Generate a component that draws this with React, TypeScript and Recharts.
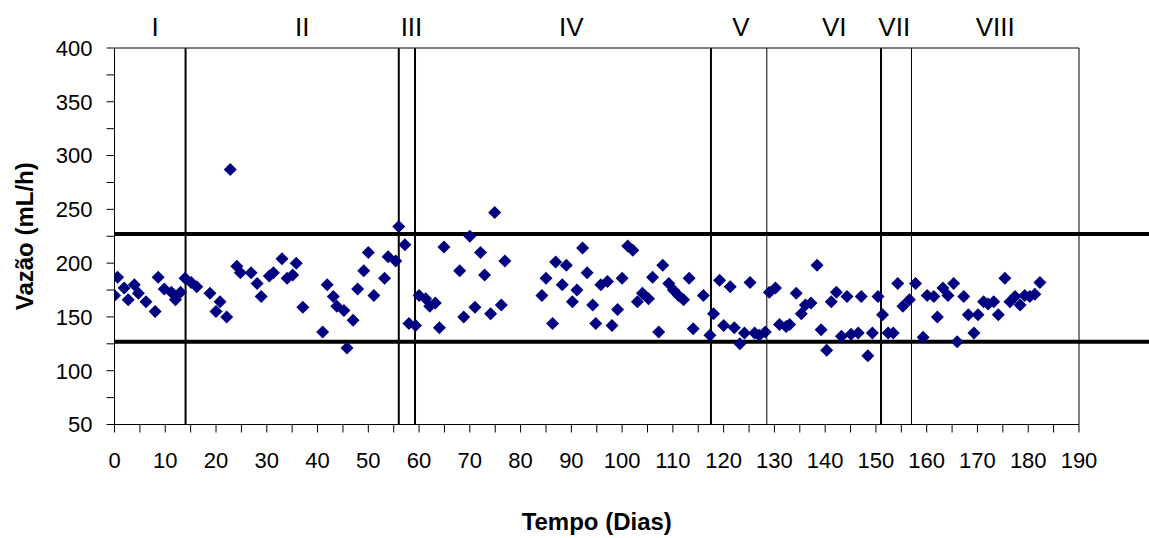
import {
  ScatterChart,
  Scatter,
  XAxis,
  YAxis,
  ReferenceLine,
  ReferenceArea,
  ReferenceDot,
} from 'recharts'

const dias = [
  0, 0.6, 1.9, 2.7, 3.9, 4.7, 6.2, 8.0, 8.6, 9.8, 11.2, 12.0, 13.0, 13.9, 15.1, 16.2,
  18.8, 20.0, 20.8, 22.1, 22.8, 24.1, 24.8, 26.9, 28.1, 28.9, 30.5, 31.3, 33.0, 34.0,
  35.1, 35.8, 37.1, 41.0, 41.9, 43.1, 43.8, 45.2, 45.8, 47.0, 47.9, 49.1, 50.0, 51.1,
  53.2, 53.9, 55.4, 56.0, 57.2, 58.0, 59.3, 60.0, 61.3, 62.1, 63.2, 64.0, 64.9, 68.0,
  68.8, 70.0, 71.0, 72.1, 72.9, 74.1, 74.9, 76.2, 76.9, 84.2, 85.0, 86.3, 86.9, 88.2,
  89.0, 90.2, 91.1, 92.2, 93.1, 94.2, 94.8, 95.8, 97.1, 98.0, 99.1, 100.0, 101.1,
  102.1, 103.0, 104.0, 105.2, 106.0, 107.2, 108.0, 109.2, 110.1, 111.1, 112.1, 113.2,
  114.0, 116.0, 117.3, 118.0, 119.2, 120.0, 121.3, 122.1, 123.2, 124.1, 125.2, 126.1,
  127.0, 128.2, 129.0, 130.2, 131.0, 132.3, 133.0, 134.3, 135.3, 136.1, 137.2, 138.4,
  139.2, 140.3, 141.2, 142.2, 143.2, 144.3, 145.1, 146.5, 147.1, 148.4, 149.3, 150.4,
  151.3, 152.4, 153.4, 154.3, 155.3, 156.6, 157.8, 159.3, 160.1, 161.4, 162.1, 163.2,
  164.2, 165.3, 166.0, 167.3, 168.2, 169.3, 170.1, 171.2, 172.1, 173.2, 174.1, 175.4,
  176.4, 177.4, 178.4, 179.3, 180.3, 181.3, 182.3,
]

const vazao = [
  170, 187, 177, 166, 180, 172, 164, 155, 187, 176, 173, 166, 173, 186, 182, 178,
  172, 155, 164, 150, 287, 197, 191, 191, 181, 169, 188, 191, 204, 186,
  189, 200, 159, 136, 180, 169, 160, 156, 121, 147, 176, 193, 210, 170,
  186, 206, 202, 234, 217, 144, 142, 170, 167, 160, 163, 140, 215, 193,
  150, 225, 159, 210, 189, 153, 247, 161, 202, 170, 186, 144, 201, 180,
  198, 164, 175, 214, 191, 161, 144, 180, 183, 142, 157, 186, 216,
  212, 164, 172, 167, 187, 136, 198, 181, 175, 170, 166, 186,
  139, 170, 133, 153, 184, 142, 178, 140, 125, 135, 182, 135,
  133, 136, 173, 177, 143, 141, 143, 172, 153, 161, 163, 198,
  138, 119, 164, 173, 132, 169, 134, 135, 169, 114, 135, 169,
  152, 135, 135, 181, 160, 166, 181, 131, 170, 169, 150, 177,
  170, 181, 127, 169, 152, 135, 152, 164, 162, 164, 152, 186,
  164, 169, 161, 170, 169, 171, 182,
]

const fases = ['I', 'II', 'III', 'IV', 'V', 'VI', 'VII', 'VIII']
const centroFases = [8, 37, 58.5, 90, 123.4, 141.8, 153.6, 173.5]

const divisoesGrossas = [14, 56, 59.2, 117.5, 151]
const divisoesFinas = [128.5, 157]

const limites = [227, 127]

const xTicks = [
  0, 5, 10, 15, 20, 25, 30, 35, 40, 45, 50, 55, 60, 65, 70, 75, 80, 85, 90, 95,
  100, 105, 110, 115, 120, 125, 130, 135, 140, 145, 150, 155, 160, 165, 170, 175,
  180, 185, 190,
]
const yTicks = [50, 75, 100, 125, 150, 175, 200, 225, 250, 275, 300, 325, 350, 375, 400]

const pontos = dias.map((d, i) => ({ dia: d, vazao: vazao[i] }))

const fonte = '"Liberation Sans", Arial, sans-serif'

function Losango(props: any) {
  const { cx, cy } = props
  const r = 6.5
  return (
    <polygon
      points={`${cx},${cy - r} ${cx + r},${cy} ${cx},${cy + r} ${cx - r},${cy}`}
      fill="#000080"
    />
  )
}

function TituloY(props: any) {
  const vb = props.viewBox
  const cy = vb.y + vb.height / 2
  return (
    <text
      x={24}
      y={cy}
      transform={`rotate(-90, 24, ${cy})`}
      textAnchor="middle"
      dominantBaseline="central"
      fontFamily={fonte}
      fontWeight="bold"
      fontSize={24}
      fill="#000"
    >
      Vazão (mL/h)
    </text>
  )
}

function TituloX(props: any) {
  const vb = props.viewBox
  return (
    <text
      x={vb.x + vb.width / 2}
      y={521}
      textAnchor="middle"
      dominantBaseline="central"
      fontFamily={fonte}
      fontWeight="bold"
      fontSize={24}
      fill="#000"
    >
      Tempo (Dias)
    </text>
  )
}

export default function App() {
  return (
    <div style={{ position: 'absolute', left: 0, top: 0, background: '#fff' }}>
      <ScatterChart
        width={1149}
        height={538}
        margin={{ top: 48, right: 70, bottom: 0, left: 14 }}
      >
        <ReferenceArea
          x1={0}
          x2={190}
          y1={50}
          y2={400}
          fill="none"
          stroke="#000"
          strokeWidth={1}
          ifOverflow="visible"
        />

        <XAxis
          type="number"
          dataKey="dia"
          domain={[0, 190]}
          ticks={xTicks}
          interval={0}
          height={113.5}
          stroke="#000"
          tickSize={8}
          tickMargin={20}
          tick={{ fill: '#000', fontSize: 22, fontFamily: fonte }}
          tickFormatter={(v: number) => (v % 10 === 0 ? String(v) : '')}
          label={<TituloX />}
          allowDataOverflow
        />

        <YAxis
          type="number"
          dataKey="vazao"
          domain={[50, 400]}
          ticks={yTicks}
          interval={0}
          width={100.5}
          stroke="#000"
          tickSize={8}
          tickMargin={14}
          tick={{ fill: '#000', fontSize: 22, fontFamily: fonte }}
          tickFormatter={(v: number) => (v % 50 === 0 ? String(v) : '')}
          label={<TituloY />}
          allowDataOverflow
        />

        {divisoesGrossas.map((d) => (
          <ReferenceLine key={'g' + d} x={d} stroke="#000" strokeWidth={2} />
        ))}
        {divisoesFinas.map((d) => (
          <ReferenceLine key={'f' + d} x={d} stroke="#000" strokeWidth={1} />
        ))}

        {limites.map((v) => (
          <ReferenceLine
            key={'l' + v}
            segment={[
              { x: 0, y: v },
              { x: 205, y: v },
            ]}
            stroke="#000"
            strokeWidth={4}
            ifOverflow="visible"
          />
        ))}

        {fases.map((f, i) => (
          <ReferenceDot
            key={f}
            x={centroFases[i]}
            y={400}
            r={0}
            fill="none"
            stroke="none"
            ifOverflow="visible"
            label={{
              value: f,
              position: 'top',
              offset: 12,
              fill: '#000',
              fontSize: 26,
              fontFamily: fonte,
            }}
          />
        ))}

        <Scatter
          data={pontos}
          shape={<Losango />}
          isAnimationActive={false}
        />
      </ScatterChart>
    </div>
  )
}
